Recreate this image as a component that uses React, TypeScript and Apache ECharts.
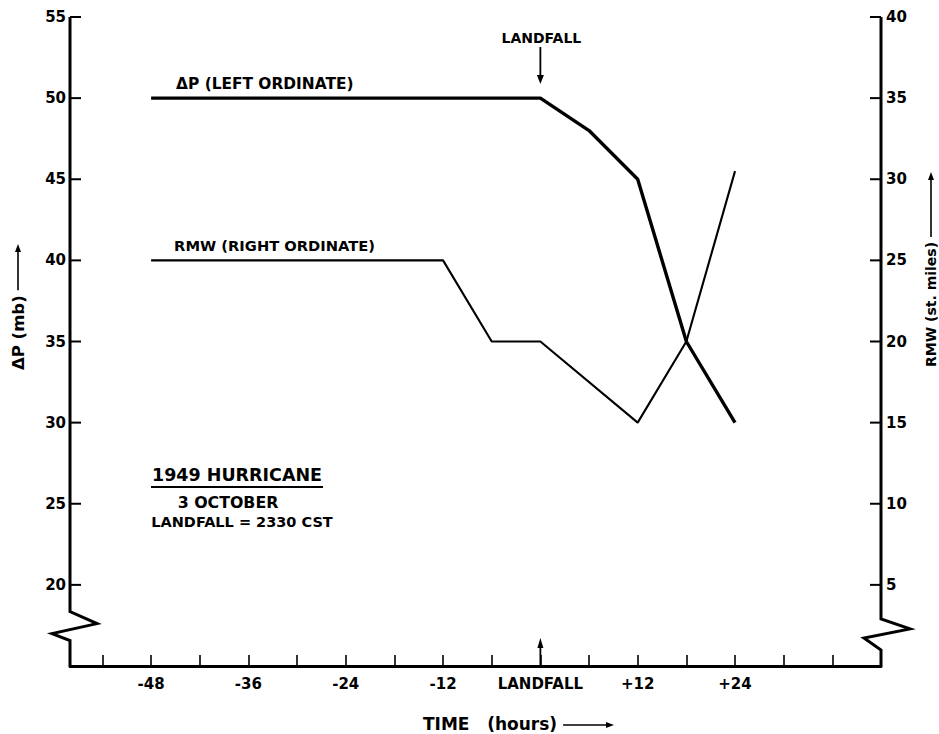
import React, { useEffect, useRef } from "react";
import * as echarts from "echarts";

// ---- data ----
const deltaPHours = [-48, 0, 6, 12, 18, 24];
const deltaPValues = [50, 50, 48, 45, 35, 30];
const rmwHours = [-48, -12, -6, 0, 12, 18, 24];
const rmwValues = [25, 25, 20, 20, 15, 20, 30.5];
const xTickValues = [-54, -48, -42, -36, -30, -24, -18, -12, -6, 0, 6, 12, 18, 24, 30, 36];
const xLabelValues = [-48, -36, -24, -12, 0, 12, 24];
const leftTickValues = [55, 50, 45, 40, 35, 30, 25, 20];
const rightTickValues = [40, 35, 30, 25, 20, 15, 10, 5];
const annotationLines = ["1949 HURRICANE", "3 OCTOBER", "LANDFALL = 2330 CST"];

const FONT = "DejaVu Sans";

function measure(text: string, size: number): number {
  const c = document.createElement("canvas").getContext("2d");
  if (!c) return text.length * size * 0.6;
  c.font = `bold ${size}px "${FONT}"`;
  return c.measureText(text).width;
}

export default function App() {
  const ref = useRef<HTMLDivElement>(null);
  useEffect(() => {
    const el = ref.current!;
    const chart = echarts.init(el, null, { renderer: "svg" });
    const lbl = { color: "#000", fontFamily: FONT, fontWeight: "bold" as const, fontSize: 15 };
    chart.setOption({
      animation: false,
      backgroundColor: "#fff",
      grid: { left: 70, right: 58, top: 17, bottom: 68 },
      xAxis: {
        type: "value",
        min: -58,
        max: 42,
        axisLine: { show: true, onZero: false, lineStyle: { color: "#000", width: 3 } },
        axisTick: { show: true, inside: true, length: 11, customValues: xTickValues, lineStyle: { color: "#000", width: 1.6 } },
        axisLabel: {
          ...lbl,
          margin: 10,
          customValues: xLabelValues,
          formatter: (v: number) => (v === 0 ? "LANDFALL" : v > 0 ? "+" + v : String(v)),
        },
        splitLine: { show: false },
      },
      yAxis: [
        {
          type: "value",
          min: 15,
          max: 55,
          interval: 5,
          position: "left",
          axisLine: { show: false, onZero: false },
          axisTick: { show: false },
          axisLabel: { ...lbl, margin: 4, showMinLabel: false },
          splitLine: { show: false },
        },
        {
          type: "value",
          min: 0,
          max: 40,
          interval: 5,
          position: "right",
          axisLine: { show: false, onZero: false },
          axisTick: { show: false },
          axisLabel: { ...lbl, margin: 5, showMinLabel: false },
          splitLine: { show: false },
        },
      ],
      series: [
        {
          name: "ΔP",
          type: "line",
          yAxisIndex: 0,
          symbol: "none",
          data: deltaPHours.map((h, i) => [h, deltaPValues[i]]),
          lineStyle: { color: "#000", width: 3.4 },
          z: 3,
        },
        {
          name: "RMW",
          type: "line",
          yAxisIndex: 1,
          symbol: "none",
          data: rmwHours.map((h, i) => [h, rmwValues[i]]),
          lineStyle: { color: "#000", width: 2.1 },
          z: 2,
        },
      ],
    });

    const p0 = (x: number, y: number) => chart.convertToPixel({ xAxisIndex: 0, yAxisIndex: 0 }, [x, y]) as number[];
    const p1 = (x: number, y: number) => chart.convertToPixel({ xAxisIndex: 0, yAxisIndex: 1 }, [x, y]) as number[];

    const [xl, yTopL] = p0(-58, 55);
    const yBreakL = p0(-58, 18.35)[1];
    const yBot = p0(-58, 15)[1];
    const [xr, yTopR] = p1(42, 40);
    const yBreakR = p1(42, 2.9)[1];
    const x0 = p0(0, 50)[0];
    const dpStart = p0(deltaPHours[0], deltaPValues[0]);
    const rmStart = p1(rmwHours[0], rmwValues[0]);

    const txt = (text: string, x: number, y: number, size: number, align = "left", rotation = 0) => ({
      type: "text",
      x,
      y,
      rotation,
      style: { text, fill: "#000", fontFamily: FONT, fontWeight: "bold", fontSize: size, align, verticalAlign: "middle" },
      silent: true,
    });
    const ln = (x1: number, y1: number, x2: number, y2: number, w = 1.6) => ({
      type: "line",
      shape: { x1, y1, x2, y2 },
      style: { stroke: "#000", lineWidth: w },
      silent: true,
    });
    const pl = (pts: number[][], w: number) => ({
      type: "polyline",
      z: 50,
      shape: { points: pts },
      style: { stroke: "#000", lineWidth: w, fill: null, lineJoin: "miter" },
      silent: true,
    });
    const box = (x: number, y: number, w: number, h: number) => ({
      type: "rect",
      z: 60,
      shape: { x, y, width: w, height: h },
      style: { fill: "#000", stroke: null },
      silent: true,
    });
    const tri = (pts: number[][]) => ({ type: "polygon", shape: { points: pts }, style: { fill: "#000" }, silent: true });

    // axis names
    const leftName = "ΔP (mb)";
    const rightName = "RMW (st. miles)";
    const bottomName = "TIME   (hours)";
    const lnW = measure(leftName, 16.5);
    const rnW = measure(rightName, 14);
    const bnW = measure(bottomName, 17);
    const leftNameX = 18, leftNameY = 370;
    const rightNameX = 931, rightNameY = 367;
    const botNameX = 423, botNameY = 724;

    // inward tick marks on both ordinates
    const leftTicks = leftTickValues.map((v) => box(xl, p0(-58, v)[1] - 1, 11, 2));
    const rightTicks = rightTickValues.map((v) => box(xr - 11, p1(42, v)[1] - 1, 11, 2));

    const a1 = annotationLines;
    const graphic: any[] = [
      // left axis with break
      pl(
        [
          [xl, yTopL],
          [xl, yBreakL],
          [xl + 27, yBreakL + 12],
          [xl - 18, yBreakL + 22],
          [xl, yBreakL + 29],
          [xl, yBot],
        ],
        3
      ),
      // right axis with break
      pl(
        [
          [xr, yTopR],
          [xr, yBreakR],
          [xr + 29, yBreakR + 10],
          [xr - 17, yBreakR + 19],
          [xr, yBreakR + 31],
          [xr, yBot],
        ],
        3
      ),
      ...leftTicks,
      ...rightTicks,
      // landfall marker at top
      txt("LANDFALL", x0 + 1, 38, 14, "center"),
      ln(x0, 47, x0, 77, 1.8),
      tri([[x0 - 3.5, 75], [x0 + 3.5, 75], [x0, 84]]),
      // landfall arrow on time axis
      ln(x0, yBot, x0, 646, 1.8),
      tri([[x0 - 3, 648], [x0 + 3, 648], [x0, 638]]),
      // series labels
      txt("ΔP (LEFT ORDINATE)", dpStart[0] + 25, dpStart[1] - 14, 15.4),
      txt("RMW (RIGHT ORDINATE)", rmStart[0] + 23, rmStart[1] - 15, 14.7),
      // annotation block
      txt(a1[0], 237, 475, 17.5, "center"),
      ln(151, 487, 323, 487, 2),
      txt(a1[1], 228, 502, 15.8, "center"),
      txt(a1[2], 242, 522, 14.5, "center"),
      // left axis name
      txt(leftName, leftNameX, leftNameY, 16.5, "left", Math.PI / 2),
      ln(leftNameX, leftNameY - lnW - 5, leftNameX, 250, 1.6),
      tri([[leftNameX - 3, 252], [leftNameX + 3, 252], [leftNameX, 244]]),
      // right axis name
      txt(rightName, rightNameX, rightNameY, 14, "left", Math.PI / 2),
      ln(rightNameX, rightNameY - rnW - 5, rightNameX, 178, 1.6),
      tri([[rightNameX - 3, 180], [rightNameX + 3, 180], [rightNameX, 172]]),
      // time axis name
      txt(bottomName, botNameX, botNameY, 17, "left"),
      ln(botNameX + bnW + 6, botNameY + 1, 608, botNameY + 1, 1.6),
      tri([[606, botNameY - 2], [606, botNameY + 4], [614, botNameY + 1]]),
    ];
    chart.setOption({ graphic: { elements: graphic } });
    return () => chart.dispose();
  }, []);
  return <div ref={ref} style={{ position: "absolute", left: 0, top: 0, width: 939, height: 734 }} />;
}
